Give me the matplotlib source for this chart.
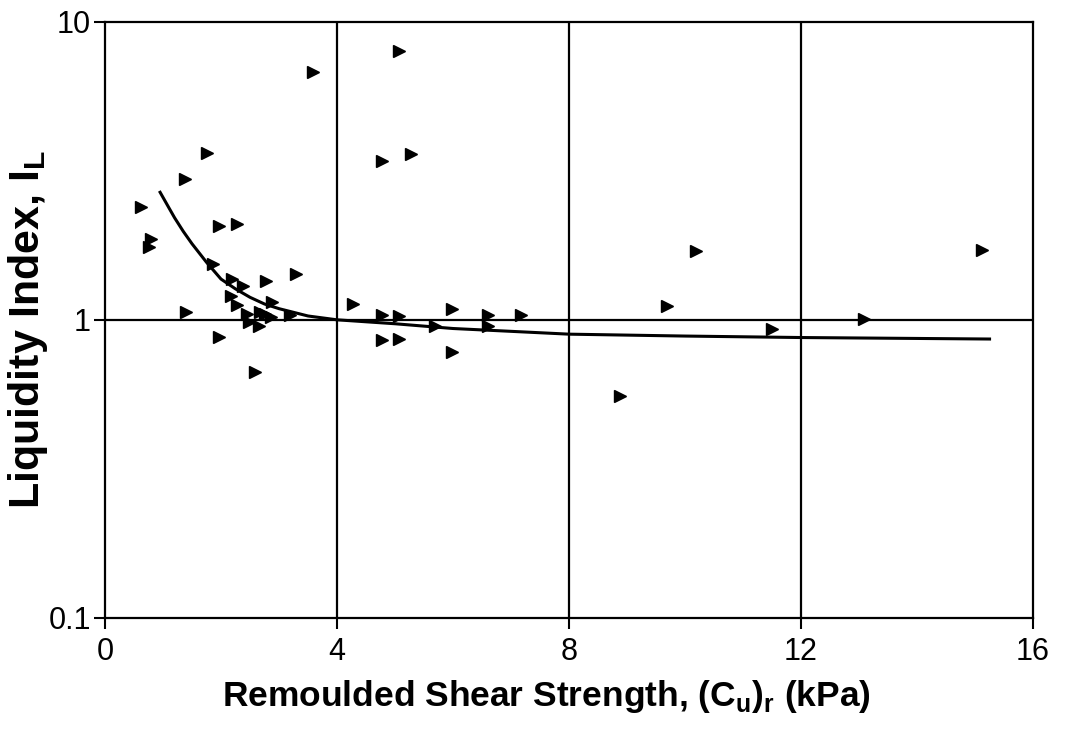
import matplotlib
matplotlib.use("Agg")
import matplotlib.pyplot as plt

# data
cu_r = [0.62, 0.79, 0.76, 1.38, 1.76, 1.40, 1.97, 2.28, 1.86, 2.19,
        2.38, 2.78, 3.29, 2.17, 2.28, 1.97, 2.59, 2.45, 2.48, 2.67,
        2.76, 2.86, 2.88, 3.19, 2.66, 3.59, 4.28, 4.78, 5.07, 5.98,
        6.60, 7.17, 5.69, 6.60, 4.78, 5.07, 5.98, 5.07, 4.78, 5.28,
        9.69, 10.19, 8.88, 11.50, 13.09, 15.12]
il = [2.39, 1.87, 1.76, 2.97, 3.63, 1.06, 2.07, 2.10, 1.54, 1.37,
      1.30, 1.35, 1.42, 1.20, 1.12, 0.877, 0.67, 1.05, 0.985, 1.06,
      1.05, 1.02, 1.15, 1.04, 0.95, 6.8, 1.13, 1.04, 1.03, 1.09,
      1.04, 1.04, 0.955, 0.955, 0.857, 0.863, 0.78, 8.0, 3.42, 3.61,
      1.11, 1.70, 0.555, 0.93, 1.01, 1.72]

# trend line
fit_x = [0.95, 1.1, 1.2, 1.35, 1.5, 1.75, 2.0, 2.25, 2.5, 2.75, 3.0, 3.5,
         4.0, 5.0, 6.0, 8.0, 10.0, 12.0, 15.25]
fit_y = [2.68, 2.38, 2.2, 1.98, 1.80, 1.56, 1.37, 1.27, 1.19, 1.13, 1.09, 1.03,
         1.00, 0.97, 0.935, 0.895, 0.882, 0.872, 0.862]

plt.rcParams['font.family'] = ['Liberation Sans', 'DejaVu Sans']
plt.rcParams['mathtext.fontset'] = 'custom'
plt.rcParams['mathtext.bf'] = 'Liberation Sans:bold'
plt.rcParams['mathtext.rm'] = 'Liberation Sans:bold'

fig = plt.figure(figsize=(10.65, 7.31), dpi=100)
ax = fig.add_axes([0.0986, 0.155, 0.8714, 0.815])

ax.set_yscale('log')
ax.set_xlim(0, 16)
ax.set_ylim(0.1, 10)

# grid lines
for gx in [4, 8, 12]:
    ax.axvline(gx, color='black', lw=1.6, zorder=1)
ax.axhline(1, color='black', lw=1.6, zorder=1)

ax.plot(fit_x, fit_y, color='black', lw=2.2, zorder=2)
ax.plot(cu_r, il, linestyle='none', marker='>', color='black', markersize=8, zorder=3)

ax.set_xticks([0, 4, 8, 12, 16])
ax.set_xticklabels(['0', '4', '8', '12', '16'])
ax.set_yticks([0.1, 1, 10])
ax.set_yticklabels(['0.1', '1', '10'])
ax.minorticks_off()
ax.tick_params(axis='both', direction='out', length=8, width=1.5, labelsize=22)
ax.tick_params(axis='x', pad=6)
ax.tick_params(axis='y', pad=2)

for s in ax.spines.values():
    s.set_linewidth(1.6)

ax.set_xlabel(r'Remoulded Shear Strength, (C$_\mathbf{u}$)$_\mathbf{r}$ (kPa)',
              fontsize=25.5, fontweight='bold')
ax.xaxis.set_label_coords(0.476, -0.102)
ax.set_ylabel(r'Liquidity Index, I$_\mathbf{L}$', fontsize=31, fontweight='bold')
ax.yaxis.set_label_coords(-0.059, 0.483)

fig.savefig('out.png', dpi=100)
